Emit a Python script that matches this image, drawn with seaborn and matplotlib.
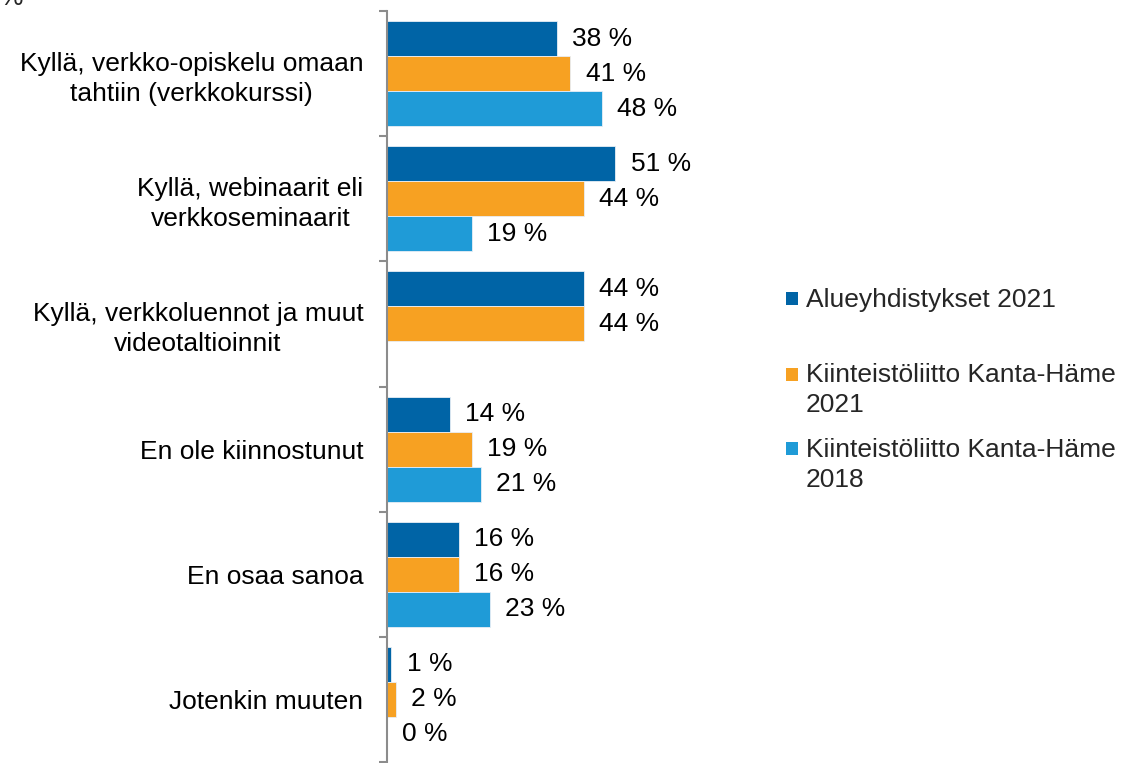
import numpy as np
import pandas as pd
import seaborn as sns
import matplotlib.pyplot as plt
from matplotlib.patches import Rectangle

# Data
categories = ["Kyllä, verkko-opiskelu omaan\ntahtiin (verkkokurssi)",
              "Kyllä, webinaarit eli\nverkkoseminaarit",
              "Kyllä, verkkoluennot ja muut\nvideotaltioinnit",
              "En ole kiinnostunut",
              "En osaa sanoa",
              "Jotenkin muuten"]
series_names = ["Alueyhdistykset 2021",
                "Kiinteistöliitto Kanta-Häme 2021",
                "Kiinteistöliitto Kanta-Häme 2018"]
# legend text is wrapped like in the original
legend_lines = [["Alueyhdistykset 2021"],
                ["Kiinteistöliitto Kanta-Häme", "2021"],
                ["Kiinteistöliitto Kanta-Häme", "2018"]]
alue_2021 = [38, 51, 44, 14, 16, 1]
kh_2021 = [41, 44, 44, 19, 16, 2]
kh_2018 = [48, 19, np.nan, 21, 23, 0]
colors = ["#0064a6", "#f7a122", "#1f9bd7"]

df = pd.DataFrame({
    "Kategoria": categories * 3,
    "Sarja": [series_names[0]] * 6 + [series_names[1]] * 6 + [series_names[2]] * 6,
    "Arvo": alue_2021 + kh_2021 + kh_2018,
})

sns.set_style("white")
plt.rcParams['font.family'] = ['Liberation Sans', 'DejaVu Sans']
FS = 19

fig = plt.figure(figsize=(11.39, 7.63), dpi=100)
ax = fig.add_axes([387 / 1139, 1 - 762 / 763, 358 / 1139, 751 / 763])

sns.barplot(data=df, x="Arvo", y="Kategoria", hue="Sarja", orient="h",
            palette=colors, saturation=1, width=0.84, order=categories,
            hue_order=series_names, edgecolor="#e8eef5", linewidth=0.6,
            legend=False, ax=ax)

for c in ax.containers:
    ax.bar_label(c, labels=[f"{v:.0f} %" for v in c.datavalues], padding=11,
                 fontsize=FS, color="#000000")

ax.set_xlim(0, 80)
ax.set_ylim(len(categories) - 0.5, -0.5)
ax.set_xlabel("")
ax.set_ylabel("")
ax.set_xticks([])
for s in ["top", "right", "bottom"]:
    ax.spines[s].set_visible(False)
ax.spines["left"].set_color("#8c8c8c")
ax.spines["left"].set_linewidth(1.5)

ax.set_yticks(range(len(categories)))
ax.set_yticklabels(categories, fontsize=FS, ma="center", linespacing=1.3,
                   color="#000000")
ax.set_yticks(np.arange(-0.5, len(categories), 1.0), minor=True)
ax.tick_params(axis="y", which="major", length=0, pad=17)
ax.tick_params(axis="y", which="minor", length=6, width=1.5, color="#8c8c8c",
               left=True)

# cropped axis title in the corner
fig.text(0.0, 1 - 5 / 763, "%", fontsize=FS, va="baseline", ha="left")

# legend, drawn by hand so the markers sit at the first text line
legend_baselines = [306.7, 382, 456.7]
for lines, col, yb in zip(legend_lines, colors, legend_baselines):
    fig.patches.append(Rectangle((786 / 1139, 1 - (yb - 1.5) / 763), 12 / 1139, 13 / 763,
                                 transform=fig.transFigure, facecolor=col,
                                 edgecolor="none"))
    for i, line in enumerate(lines):
        fig.text(806 / 1139, 1 - (yb + 30 * i) / 763, line, fontsize=FS,
                 va="baseline", ha="left")

plt.savefig("out.png", dpi=100)
